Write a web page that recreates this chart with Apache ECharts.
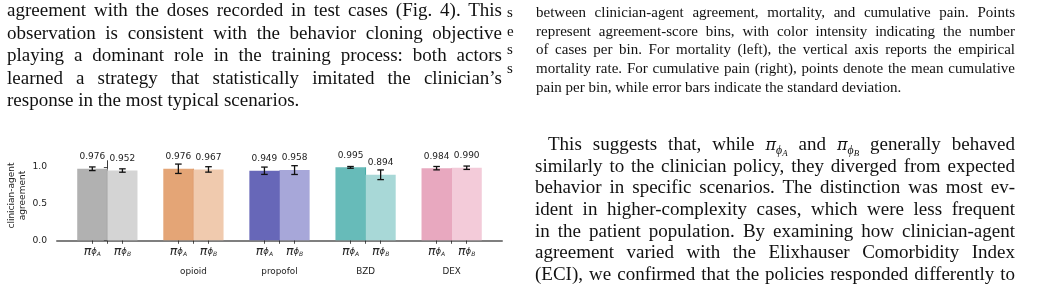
<!DOCTYPE html>
<html>
<head>
<meta charset="utf-8">
<script src="https://cdn.jsdelivr.net/npm/echarts@6/dist/echarts.min.js"></script>
<style>
  html, body { margin: 0; padding: 0; background: #fff; }
  #page { position: relative; width: 1045px; height: 308px; overflow: hidden; }
  #chart { position: absolute; left: 0; top: 0; width: 1045px; height: 308px; }
  .col { position: absolute; font-family: "Liberation Serif", "DejaVu Serif", serif; color: #111; }
  .col div { white-space: nowrap; overflow: visible; }
  .col i.m { font-family: "DejaVu Serif", serif; font-size: 0.85em; line-height: 0; }
  .col sub { font-size: 0.62em; vertical-align: -0.3em; font-style: italic; line-height: 0; }
  .col sub sub { font-size: 0.75em; vertical-align: -0.25em; }
</style>
</head>
<body>
<div id="page">
  <div id="chart"></div>
  <div class="col" id="left" style="left:7px; top:-1px; width:495px; font-size:19px; line-height:22.5px;"></div>
  <div class="col" id="frag" style="left:507px; top:3px; font-size:15px; line-height:18.65px;"></div>
  <div class="col" id="caption" style="left:536px; top:3px; width:479px; font-size:15px; line-height:18.65px;"></div>
  <div class="col" id="body" style="left:535px; top:133px; width:480px; font-size:19px; line-height:21.7px;"></div>
</div>
<script>
// bar chart data: clinician-agent agreement per drug, two actors
const groups = ["", "opioid", "propofol", "BZD", "DEX"];
const agentA = [0.976, 0.976, 0.949, 0.995, 0.984];
const agentB = [0.952, 0.967, 0.958, 0.894, 0.990];
const errA = [0.025, 0.064, 0.05, 0.012, 0.023];
const errB = [0.023, 0.037, 0.06, 0.066, 0.023];
const actorTags = ["A", "B"];
const yTicks = [0, 0.5, 1.0];

// surrounding paper text
const leftLines = [
  "agreement with the doses recorded in test cases (Fig. 4). This",
  "observation is consistent with the behavior cloning objective",
  "playing a dominant role in the training process: both actors",
  "learned a strategy that statistically imitated the clinician\u2019s",
  "response in the most typical scenarios."
];
const fragLines = ["s", "e", "s", "s"];
const captionLines = [
  "between clinician-agent agreement, mortality, and cumulative pain. Points",
  "represent agreement-score bins, with color intensity indicating the number",
  "of cases per bin. For mortality (left), the vertical axis reports the empirical",
  "mortality rate. For cumulative pain (right), points denote the mean cumulative",
  "pain per bin, while error bars indicate the standard deviation."
];
const bodyLines = [
  "This suggests that, while <i class=\"m\">\u03c0</i><sub>\u03d5<sub>A</sub></sub> and <i class=\"m\">\u03c0</i><sub>\u03d5<sub>B</sub></sub> generally behaved",
  "similarly to the clinician policy, they diverged from expected",
  "behavior in specific scenarios. The distinction was most ev-",
  "ident in higher-complexity cases, which were less frequent",
  "in the patient population. By examining how clinician-agent",
  "agreement varied with the Elixhauser Comorbidity Index",
  "(ECI), we confirmed that the policies responded differently to"
];

const palette = [
  ["#b1b1b1", "#d4d4d4"],
  ["#e4a576", "#f0caae"],
  ["#6767b8", "#a7a7d9"],
  ["#67bbb9", "#a8d8d7"],
  ["#e8a8bf", "#f3cbd9"]
];
const edges = ["#999999", "#d88a55", "#4646a8", "#45a9a5", "#df8ca9"];

const BAR_W = 0.35;
const OFF = BAR_W / 2;

const barData = [];
const barCenters = [];
groups.forEach((g, i) => {
  barData.push([i - OFF, agentA[i], errA[i], i, 0]);
  barData.push([i + OFF, agentB[i], errB[i], i, 1]);
  barCenters.push(i - OFF, i + OFF);
});
const groupCenters = groups.map((g, i) => i);

function tagFor(v) {
  const idx = barCenters.findIndex((c) => Math.abs(c - v) < 1e-6);
  return actorTags[idx % 2];
}

function renderBar(params, api) {
  const x = api.value(0);
  const y = api.value(1);
  const g = api.value(3);
  const k = api.value(4);
  const top = api.coord([x, y]);
  const base = api.coord([x, 0]);
  const w = api.size([BAR_W, 0])[0];
  const children = [{
    type: "rect",
    shape: { x: top[0] - w / 2, y: top[1], width: w, height: base[1] - top[1] },
    style: { fill: palette[g][k] },
  }];
  if (k === 0) {
    children.push({
      type: "line",
      shape: { x1: top[0] + w / 2, y1: top[1], x2: top[0] + w / 2, y2: base[1] },
      style: { stroke: edges[g], lineWidth: 1 },
    });
  }
  children.push({
    type: "text",
    x: top[0],
    y: top[1] - 12,
    style: { text: y.toFixed(3), font: "9px 'DejaVu Sans'", fill: "#222", align: "center", verticalAlign: "middle" },
  });
  return { type: "group", children };
}

function renderErr(params, api) {
  const x = api.value(0);
  const y = api.value(1);
  const e = api.value(2);
  const hi = api.coord([x, y + e]);
  const lo = api.coord([x, y - e]);
  const cap = 3.3;
  const st = { stroke: "#111", lineWidth: 1.3 };
  return {
    type: "group",
    children: [
      { type: "line", shape: { x1: hi[0], y1: hi[1], x2: lo[0], y2: lo[1] }, style: st },
      { type: "line", shape: { x1: hi[0] - cap, y1: hi[1], x2: hi[0] + cap, y2: hi[1] }, style: st },
      { type: "line", shape: { x1: lo[0] - cap, y1: lo[1], x2: lo[0] + cap, y2: lo[1] }, style: st },
    ],
  };
}

const chart = echarts.init(document.getElementById("chart"), null, { renderer: "canvas" });
chart.setOption({
  animation: false,
  grid: { left: 57, right: 543, top: 160.7, bottom: 67.7 },
  xAxis: [
    {
      type: "value",
      min: -0.585,
      max: 4.585,
      splitLine: { show: false },
      axisLine: { show: true, lineStyle: { color: "#7f7f7f", width: 2 } },
      axisTick: { show: true, customValues: barCenters.concat(groupCenters), length: 3.5, lineStyle: { color: "#222", width: 0.8 } },
      axisLabel: {
        customValues: barCenters,
        margin: 5,
        color: "#222",
        formatter: (v) => "{p|\u03c0}{f|\u03d5}{s|" + tagFor(v) + "}",
        rich: {
          p: { fontFamily: "DejaVu Sans", fontStyle: "italic", fontSize: 12.5, lineHeight: 12, padding: [0, 0, 5, 0], verticalAlign: "top", color: "#222" },
          f: { fontFamily: "DejaVu Sans", fontStyle: "italic", fontSize: 8.5, lineHeight: 9, padding: [0, 0, 1.5, 0], verticalAlign: "bottom", color: "#222" },
          s: { fontFamily: "DejaVu Sans", fontStyle: "italic", fontSize: 6, lineHeight: 6, verticalAlign: "bottom", color: "#222" },
        },
      },
    },
    {
      type: "value",
      position: "bottom",
      min: -0.585,
      max: 4.585,
      splitLine: { show: false },
      axisLine: { show: false },
      axisTick: { show: false },
      axisLabel: {
        customValues: groupCenters,
        margin: 27,
        color: "#222",
        fontFamily: "DejaVu Sans",
        fontSize: 8.8,
        formatter: (v) => groups[Math.round(v)],
      },
    },
  ],
  yAxis: {
    type: "value",
    min: 0,
    max: 1.086,
    name: "clinician-agent\nagreement",
    nameLocation: "middle",
    nameRotate: 90,
    nameGap: 26.5,
    nameTextStyle: { fontFamily: "DejaVu Sans", fontSize: 9, color: "#222", lineHeight: 11, padding: [0, 0, 0, 10] },
    splitLine: { show: false },
    axisLine: { show: true, lineStyle: { color: "#222", width: 0.9 } },
    axisTick: { show: true, customValues: yTicks, length: 3.5, lineStyle: { color: "#222", width: 0.8 } },
    axisLabel: {
      customValues: yTicks,
      margin: 10,
      color: "#222",
      fontFamily: "DejaVu Sans",
      fontSize: 9.2,
      formatter: (v) => v.toFixed(1),
    },
  },
  series: [
    { type: "custom", renderItem: renderBar, data: barData, encode: { x: 0, y: 1 }, clip: false, silent: true },
    { type: "custom", renderItem: renderErr, data: barData, encode: { x: 0, y: 1 }, clip: false, silent: true, z: 3 },
  ],
});

// paper text, each line justified to its column width
function fillColumn(id, lines, justifyLast, indent) {
  const box = document.getElementById(id);
  const width = box.style.width ? parseFloat(box.style.width) : 0;
  const lh = box.style.lineHeight;
  lines.forEach((html, i) => {
    const div = document.createElement("div");
    div.style.height = lh;
    const span = document.createElement("span");
    span.innerHTML = html;
    div.appendChild(span);
    box.appendChild(div);
    const pad = indent && i === 0 ? indent : 0;
    if (pad) div.style.paddingLeft = pad + "px";
    const last = i === lines.length - 1;
    if (!width || (last && !justifyLast)) return;
    const natural = span.getBoundingClientRect().width;
    const spaces = (span.textContent.match(/ /g) || []).length;
    if (spaces) span.style.wordSpacing = ((width - pad - natural) / spaces) + "px";
  });
}
fillColumn("left", leftLines, false, 0);
fillColumn("frag", fragLines, false, 0);
fillColumn("caption", captionLines, false, 0);
fillColumn("body", bodyLines, true, 13);
</script>
</body>
</html>
